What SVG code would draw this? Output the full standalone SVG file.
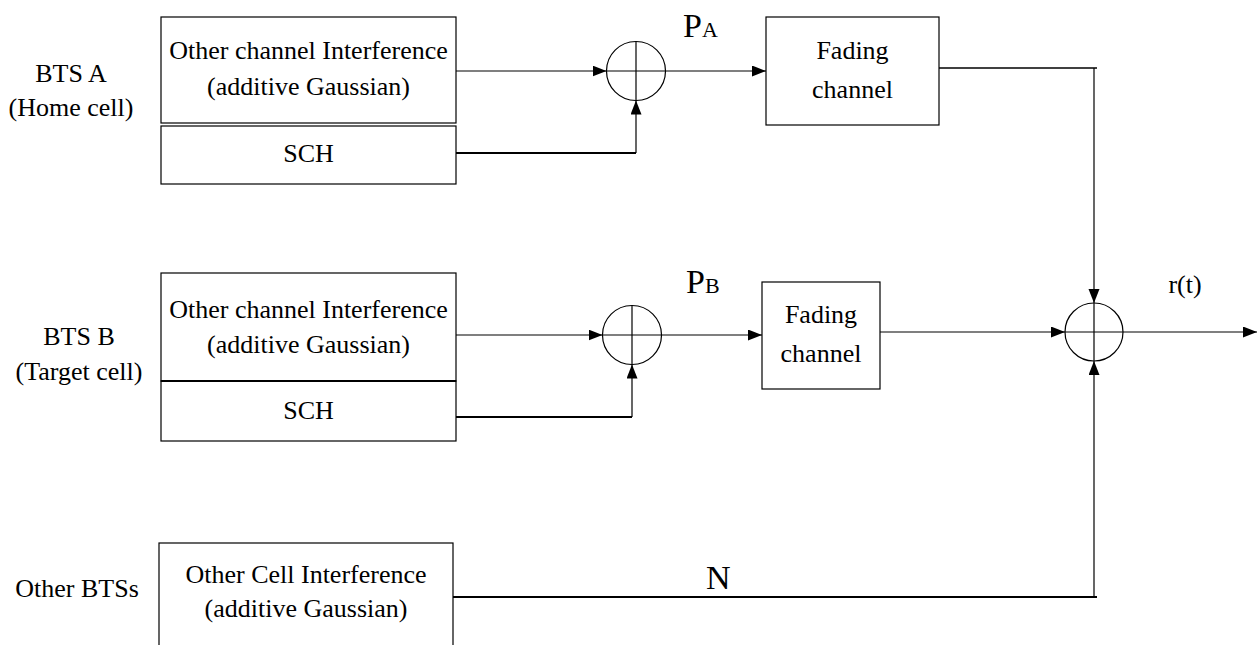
<svg xmlns="http://www.w3.org/2000/svg" width="1259" height="645" viewBox="0 0 1259 645" font-family="'Liberation Serif', 'Times New Roman', Tinos, 'DejaVu Serif', serif">
<style>
text{font-family:'Liberation Serif','Times New Roman',Tinos,'DejaVu Serif',serif;fill:#000;}
.t{font-size:26px;text-anchor:middle;}
.p{font-size:34px;}
.s{font-size:22px;}
.box{fill:#fff;stroke:#000;stroke-width:1.2;}
.ln{fill:none;stroke:#000;stroke-width:1.2;}
.th{fill:none;stroke:#000;stroke-width:2;}
</style>
<defs>
<marker id="ah" markerUnits="userSpaceOnUse" markerWidth="16" markerHeight="12" refX="14" refY="5.5" orient="auto">
<path d="M0,0 L14,5.5 L0,11 Z" fill="#000"/>
</marker>
</defs>
<rect width="1259" height="645" fill="#fff"/>

<g id="labels">
<text class="t" x="71" y="82">BTS A</text>
<text class="t" x="71" y="116">(Home cell)</text>
<text class="t" x="79" y="345">BTS B</text>
<text class="t" x="79" y="380">(Target cell)</text>
<text class="t" x="77" y="597">Other BTSs</text>
</g>

<g id="boxA_int">
<rect class="box" x="161" y="17" width="295" height="106"/>
<text class="t" x="308.5" y="59">Other channel Interference</text>
<text class="t" x="308.5" y="95">(additive Gaussian)</text>
</g>
<g id="boxA_sch">
<rect class="box" x="161" y="126" width="295" height="58"/>
<text class="t" x="308.5" y="162">SCH</text>
</g>

<g id="boxB_int">
<rect class="box" x="161" y="273" width="295" height="108"/>
<text class="t" x="308.5" y="318">Other channel Interference</text>
<text class="t" x="308.5" y="353">(additive Gaussian)</text>
</g>
<g id="boxB_sch">
<rect class="box" x="161" y="381" width="295" height="60"/>
<line x1="161" y1="381" x2="456" y2="381" stroke="#000" stroke-width="2.2"/>
<text class="t" x="308.5" y="419">SCH</text>
</g>

<g id="boxN">
<rect class="box" x="159" y="543" width="294" height="110"/>
<text class="t" x="306" y="583">Other Cell Interference</text>
<text class="t" x="306" y="617">(additive Gaussian)</text>
</g>

<g id="sumA">
<circle class="ln" cx="636" cy="71" r="29.5"/>
<line class="ln" x1="606.5" y1="71" x2="665.5" y2="71"/>
<line class="ln" x1="636" y1="41.5" x2="636" y2="100.5"/>
</g>
<g id="sumB">
<circle class="ln" cx="632" cy="335" r="29.5"/>
<line class="ln" x1="602.5" y1="335" x2="661.5" y2="335"/>
<line class="ln" x1="632" y1="305.5" x2="632" y2="364.5"/>
</g>
<g id="sumOut">
<circle class="ln" cx="1094" cy="332" r="29"/>
<line class="ln" x1="1065" y1="332" x2="1123" y2="332"/>
<line class="ln" x1="1094" y1="303" x2="1094" y2="361"/>
</g>

<g id="fadeA">
<rect class="box" x="766" y="17" width="173" height="108"/>
<text class="t" x="852.5" y="59">Fading</text>
<text class="t" x="852.5" y="98">channel</text>
</g>
<g id="fadeB">
<rect class="box" x="762" y="282" width="118" height="107"/>
<text class="t" x="821" y="323">Fading</text>
<text class="t" x="821" y="362">channel</text>
</g>

<g id="texts">
<text x="683" y="37"><tspan class="p">P</tspan><tspan class="s">A</tspan></text>
<text x="686" y="293"><tspan class="p">P</tspan><tspan class="s">B</tspan></text>
<text class="p" x="706" y="589">N</text>
<text class="t" x="1185" y="293">r(t)</text>
</g>

<g id="connectors">
<line class="ln" x1="456" y1="71" x2="606.5" y2="71" marker-end="url(#ah)"/>
<polyline class="th" points="456,153 636,153"/>
<line class="ln" x1="636" y1="153" x2="636" y2="100.5" marker-end="url(#ah)"/>
<line class="ln" x1="665.5" y1="71" x2="766" y2="71" marker-end="url(#ah)"/>
<polyline class="th" points="939,68 1097,68" style="stroke-width:1.6"/>
<line class="ln" x1="1094" y1="68" x2="1094" y2="303" marker-end="url(#ah)"/>

<line class="ln" x1="456" y1="335" x2="602.5" y2="335" marker-end="url(#ah)"/>
<polyline class="th" points="456,417 632,417"/>
<line class="ln" x1="632" y1="417" x2="632" y2="364.5" marker-end="url(#ah)"/>
<line class="ln" x1="661.5" y1="335" x2="762" y2="335" marker-end="url(#ah)"/>
<line class="ln" x1="880" y1="332" x2="1065" y2="332" marker-end="url(#ah)"/>

<polyline class="th" points="453,597 1097,597"/>
<line class="ln" x1="1094" y1="597" x2="1094" y2="361" marker-end="url(#ah)"/>
<line class="ln" x1="1123" y1="332" x2="1257" y2="332" marker-end="url(#ah)"/>
</g>
</svg>
